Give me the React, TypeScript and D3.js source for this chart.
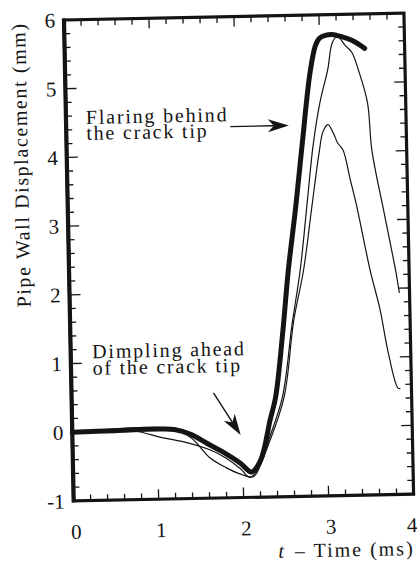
import * as d3 from "d3";

// heavy curve (measured displacement)
const heavyT = [0, 0.5, 1.0, 1.2, 1.4, 1.58, 1.75, 1.97, 2.1, 2.21, 2.33, 2.4, 2.5, 2.58, 2.68, 2.77, 2.88, 2.95, 3.0, 3.07, 3.15, 3.25, 3.38, 3.53];
const heavyV = [0, 0.01, 0.02, 0.01, -0.07, -0.2, -0.32, -0.5, -0.63, -0.46, 0.12, 0.45, 1.4, 2.3, 3.2, 4.1, 5.15, 5.55, 5.66, 5.7, 5.71, 5.68, 5.62, 5.5];

// thin curve, tall peak
const tallT = [0, 1.2, 1.4, 1.62, 1.8, 1.97, 2.12, 2.2, 2.3, 2.48, 2.61, 2.72, 2.82, 2.9, 2.99, 3.09, 3.15, 3.21, 3.3, 3.38, 3.45, 3.55, 3.59, 3.72, 3.84, 3.88];
const tallV = [0, 0.02, -0.12, -0.42, -0.56, -0.66, -0.7, -0.55, -0.2, 0.45, 1.5, 2.3, 3.3, 4.1, 4.72, 5.2, 5.59, 5.68, 5.55, 5.44, 5.19, 4.71, 4.02, 3.1, 2.27, 1.93];

// thin curve, lower peak
const lowT = [0, 0.72, 1.04, 1.3, 1.62, 1.8, 1.97, 2.08, 2.18, 2.3, 2.5, 2.63, 2.76, 2.87, 2.97, 3.02, 3.08, 3.14, 3.19, 3.25, 3.33, 3.4, 3.54, 3.65, 3.73, 3.84, 3.87];
const lowV = [0, 0, -0.1, -0.17, -0.3, -0.42, -0.58, -0.71, -0.58, -0.25, 0.45, 1.55, 2.3, 3.2, 4.0, 4.3, 4.4, 4.28, 4.13, 4.03, 3.59, 3.2, 2.28, 1.69, 1.1, 0.55, 0.54];

const xTickLabels = ["0", "1", "2", "3", "4"];
const yTickLabels = ["-1", "0", "1", "2", "3", "4", "5", "6"];

const font = "'Liberation Serif', 'Times New Roman', serif";
const ink = "#141414";

function arrow(x1: number, y1: number, x2: number, y2: number, len = 21, hw = 6.5) {
  const dx = x2 - x1, dy = y2 - y1;
  const l = Math.hypot(dx, dy);
  const ux = dx / l, uy = dy / l, nx = -uy, ny = ux;
  const bx = x2 - ux * len, by = y2 - uy * len;
  const mx = x2 - ux * len * 0.72, my = y2 - uy * len * 0.72;
  return {
    shaft: `M${x1},${y1}L${mx},${my}`,
    head: `M${x2},${y2}L${bx + nx * hw},${by + ny * hw}L${mx},${my}L${bx - nx * hw},${by - ny * hw}Z`,
  };
}

export default function App() {
  const width = 417;
  const height = 565;
  const left = 64, top = 20, plotW = 340, plotH = 481;

  const x = d3.scaleLinear().domain([0, 4]).range([left, left + plotW]);
  const y = d3.scaleLinear().domain([-1, 6]).range([top + plotH, top]);

  const line = d3
    .line<[number, number]>()
    .x((d) => x(d[0]))
    .y((d) => y(d[1]))
    .curve(d3.curveCatmullRom.alpha(0.5));

  const zip = (a: number[], b: number[]) => a.map((t, i) => [t, b[i]] as [number, number]);

  const xMinor = d3.range(0, 4.0001, 0.2);
  const yMinor = d3.range(-1, 6.0001, 0.2);
  const isMajor = (v: number) => Math.abs(v - Math.round(v)) < 1e-6;

  const a1 = arrow(x(1.93), y(4.4), x(2.62), y(4.4));
  const a2 = arrow(x(1.67), y(0.53), x(1.98), y(-0.09));

  const textProps = {
    fontFamily: font,
    fontSize: 20,
    fill: ink,
    letterSpacing: 1.8,
  };

  return (
    <svg width={width} height={height} style={{ position: "absolute", left: 0, top: 0, background: "#fff" }}>
      <rect width={width} height={height} fill="#fff" />
      <g transform={`rotate(-1.15 ${left} ${top})`}>
        {/* ticks */}
        {yMinor.map((v) => {
          const len = isMajor(v) ? 11 : 6;
          return (
            <g key={"y" + v.toFixed(1)} stroke={ink} strokeWidth={1.3}>
              <line x1={left} x2={left + len} y1={y(v)} y2={y(v)} />
              <line x1={left + plotW} x2={left + plotW - len} y1={y(v)} y2={y(v)} />
            </g>
          );
        })}
        {xMinor.map((t) => {
          const len = isMajor(t) ? 10 : 6;
          return (
            <g key={"x" + t.toFixed(1)} stroke={ink} strokeWidth={1.3}>
              <line x1={x(t)} x2={x(t)} y1={top} y2={top + len} />
              <line x1={x(t)} x2={x(t)} y1={top + plotH} y2={top + plotH - len} />
            </g>
          );
        })}

        {/* frame */}
        <rect x={left} y={top} width={plotW} height={plotH} fill="none" stroke={ink} strokeWidth={3.2} />
        <line x1={left} x2={left} y1={top - 1.5} y2={top + plotH + 1.5} stroke={ink} strokeWidth={4.2} />

        {/* tick labels */}
        {yTickLabels.map((s) => (
          <text key={s} x={left - 9} y={y(+s)} dy="0.35em" textAnchor="end" fontFamily={font} fontSize={21} fill={ink}>
            {s}
          </text>
        ))}
        {xTickLabels.map((s) => (
          <text key={s} x={x(+s) + (s === "4" ? -2 : 2)} y={top + plotH + 38} textAnchor="middle" fontFamily={font} fontSize={21} fill={ink}>
            {s}
          </text>
        ))}

        {/* axis titles */}
        <text transform={`translate(25,${top + 144}) rotate(-90)`} textAnchor="middle" {...textProps} letterSpacing={1.6}>
          Pipe Wall Displacement (mm)
        </text>
        <text x={left + plotW} y={top + plotH + 61} textAnchor="end" {...textProps} letterSpacing={2}>
          <tspan fontStyle="italic">t</tspan>
          <tspan dx={9}>– Time (ms)</tspan>
        </text>

        {/* curves */}
        <path d={line(zip(lowT, lowV)) ?? ""} fill="none" stroke={ink} strokeWidth={1.2} />
        <path d={line(zip(tallT, tallV)) ?? ""} fill="none" stroke={ink} strokeWidth={1.2} />
        <path d={line(zip(heavyT, heavyV)) ?? ""} fill="none" stroke={ink} strokeWidth={5} strokeLinecap="round" strokeLinejoin="round" />

        {/* annotations */}
        <text x={x(0.235)} y={y(4.48)} {...textProps}>Flaring behind</text>
        <text x={x(0.235)} y={y(4.25)} {...textProps}>the crack tip</text>
        <path d={a1.shaft} stroke={ink} strokeWidth={1.4} fill="none" />
        <path d={a1.head} fill={ink} />

        <text x={x(0.254)} y={y(1.07)} {...textProps}>Dimpling ahead</text>
        <text x={x(0.254)} y={y(0.83)} {...textProps}>of the crack tip</text>
        <path d={a2.shaft} stroke={ink} strokeWidth={1.4} fill="none" />
        <path d={a2.head} fill={ink} />
      </g>
    </svg>
  );
}
